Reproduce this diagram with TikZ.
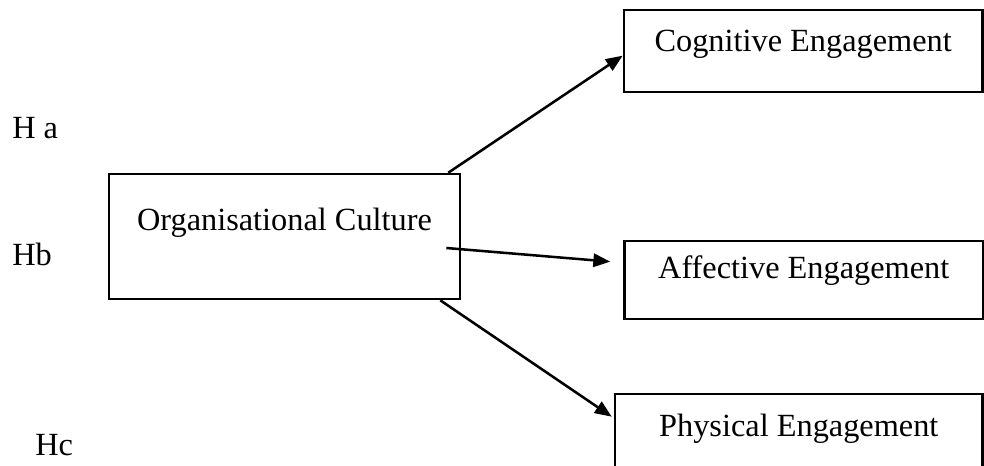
\documentclass[tikz,border=0pt]{standalone}
\usepackage{fontspec}
\setmainfont{Liberation Serif}
\usetikzlibrary{arrows.meta, positioning, calc}
\definecolor{boxLine}{HTML}{000000}
\definecolor{boxText}{HTML}{000000}
\definecolor{arrowBlack}{HTML}{000000}

\begin{document}
\begin{tikzpicture}[
  font=\fontsize{23}{27}\selectfont,
  box/.style   ={draw=boxLine, text=boxText, line width=1.9pt, inner sep=0pt, text height=15pt},
  culture/.style={box, minimum width=8.775cm, minimum height=3.125cm, text depth=24.2pt},
  engage/.style={box, minimum width=8.96cm, minimum height=2.05cm},
  hyp/.style   ={text=boxText, anchor=base west, inner sep=0pt},
  flow/.style  ={-{Triangle[length=12pt, width=9.5pt]}, draw=arrowBlack, line width=1.8pt},
]
\useasboundingbox (0,0) rectangle (24.6,11.625);
% ----- Hypotheses -----
\node[hyp] (Ha) at (0.3,8.175)  {H a};
\node[hyp] (Hb) at (0.3,5.0)    {Hb};
\node[hyp] (Hc) at (0.875,0.25) {Hc};
% ----- Independent variable -----
\node[culture] (OC) at (7.1125,5.7125) {Organisational Culture};
% ----- Engagement -----
\node[engage, text depth=13.6pt] (CE) at (20.08,10.35) {Cognitive Engagement};
\node[engage, minimum height=1.95cm, text depth=17.8pt] (AE) at (20.094,4.625) {Affective Engagement};
\node[engage, minimum width=9.1875cm, text depth=12.2pt] (PE) at (19.97,0.75) {Physical Engagement};
% ----- Links -----
\draw[flow] ([xshift=-0.325cm]OC.north east) -- ([yshift=-1.175cm]CE.north west);
\draw[flow] ([xshift=-0.375cm, yshift=-0.2875cm]OC.east) -- ([xshift=-0.325cm, yshift=-0.55cm]AE.north west);
\draw[flow] ([xshift=-0.525cm]OC.south east) -- ([xshift=-0.05cm, yshift=-0.6cm]PE.north west);
\end{tikzpicture}
\end{document}
